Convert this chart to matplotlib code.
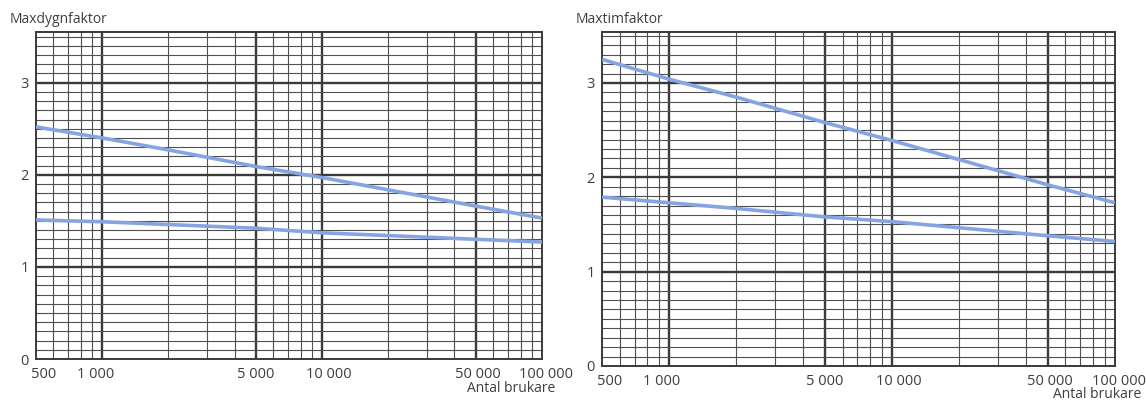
import matplotlib
matplotlib.use("Agg")
import matplotlib.pyplot as plt
import matplotlib.transforms as mtransforms
from matplotlib.ticker import FixedLocator, NullFormatter

plt.rcParams['font.family'] = ['Open Sans', 'DejaVu Sans']

# antal brukare (x) and read-off factors
users = [500, 1000, 2000, 5000, 10000, 50000, 100000]

dygn_upper = [2.52, 2.40, 2.27, 2.09, 1.97, 1.66, 1.53]
dygn_lower = [1.51, 1.49, 1.46, 1.42, 1.37, 1.30, 1.27]

tim_upper = [3.25, 3.04, 2.85, 2.58, 2.39, 1.92, 1.73]
tim_lower = [1.79, 1.73, 1.67, 1.58, 1.53, 1.38, 1.32]

xticks = [500, 1000, 5000, 10000, 50000, 100000]
xlabels = ['500', '1 000', '5 000', '10 000', '50 000', '100 000']
# sideways nudge (pixels) of each x label, as typeset on the printed chart
label_shift = [8, -7, 0, 7, 2, 4]
yticks = [0, 1, 2, 3]

x_major = [1000, 5000, 10000, 50000]
x_minor = [600, 700, 800, 900, 2000, 3000, 4000, 6000, 7000, 8000, 9000,
           20000, 30000, 40000, 60000, 70000, 80000, 90000]

line_col = '#86a3e2'
grid_col = '#3a3a3a'
minor_col = '#505050'
text_col = '#3e3e3e'


def panel(fig, ax, upper, lower, title, ytop, xlab_dx):
    ax.set_xscale('log')
    ax.set_xlim(500, 100000)
    ax.set_ylim(0, ytop)

    # paper grid: thin every 0.1, heavier on whole numbers and 1/5 decades
    for v in x_minor:
        ax.axvline(v, color=minor_col, lw=0.8, zorder=1)
    for v in x_major:
        ax.axvline(v, color=grid_col, lw=1.7, zorder=1)
    for i in range(1, int(ytop * 10) + 1):
        y = i / 10
        if i % 10 == 0:
            ax.axhline(y, color=grid_col, lw=1.7, zorder=1)
        else:
            ax.axhline(y, color=minor_col, lw=0.8, zorder=1)

    ax.plot(users, upper, color=line_col, lw=2.6, zorder=3, solid_capstyle='butt')
    ax.plot(users, lower, color=line_col, lw=2.6, zorder=3, solid_capstyle='butt')

    ax.xaxis.set_minor_formatter(NullFormatter())
    ax.xaxis.set_minor_locator(FixedLocator([]))
    ax.set_xticks(xticks)
    ax.set_xticklabels(xlabels)
    ax.set_yticks(yticks)
    ax.tick_params(length=0, labelsize=10.5, labelcolor=text_col, pad=6)
    ax.tick_params(axis='y', pad=5)

    for lab, dx in zip(ax.get_xticklabels(), label_shift):
        off = mtransforms.ScaledTranslation(dx / 100, 0, fig.dpi_scale_trans)
        lab.set_transform(lab.get_transform() + off)

    for s in ax.spines.values():
        s.set_color(grid_col)
        s.set_linewidth(1.4)

    # axis titles: y title above the top-left corner, x title under the ticks
    ax.annotate(title, xy=(0, 1), xycoords='axes fraction',
                xytext=(-26, 12), textcoords='offset pixels', fontsize=10,
                color=text_col, ha='left', va='center')
    ax.annotate('Antal brukare', xy=(1, 0), xycoords='axes fraction',
                xytext=(xlab_dx, -29), textcoords='offset pixels', fontsize=10,
                color=text_col, ha='right', va='center')


fig = plt.figure(figsize=(11.46, 4.01), dpi=100)
ax1 = fig.add_axes([0.0314, 0.1047, 0.4415, 0.8155])
ax2 = fig.add_axes([0.5253, 0.0873, 0.4476, 0.8329])

panel(fig, ax1, dygn_upper, dygn_lower, 'Maxdygnfaktor', 3.55, 13)
panel(fig, ax2, tim_upper, tim_lower, 'Maxtimfaktor', 3.54, 26)

fig.savefig('out.png', dpi=100, facecolor='white')
